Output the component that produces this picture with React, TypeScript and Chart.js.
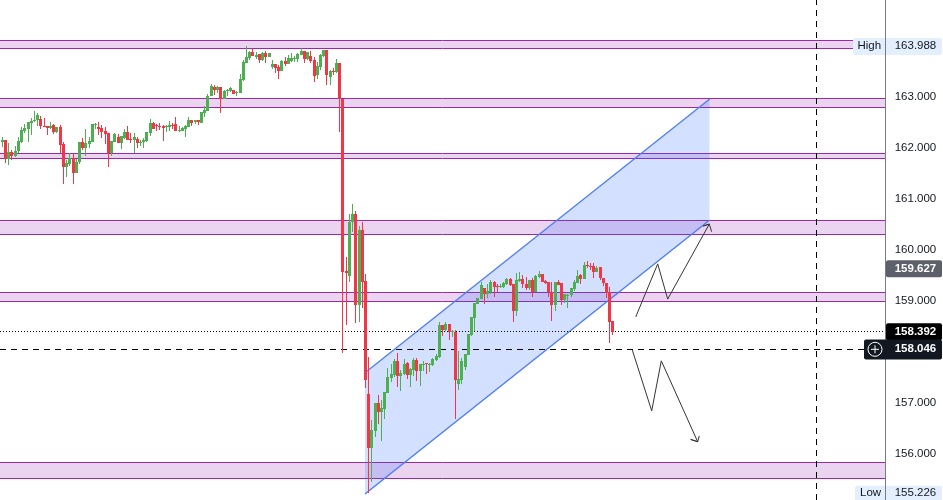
import React, { useEffect, useRef } from "react";
import { Chart, registerables } from "chart.js";

Chart.register(...registerables);

const opens = [
  162.10,162.15,161.78,161.91,161.83,161.93,162.10,162.32,162.37,162.49,
  162.53,162.53,162.56,162.43,162.43,162.38,162.44,162.30,162.40,162.07,
  161.62,161.68,161.79,161.51,161.72,162.11,162.00,162.07,162.11,162.45,
  162.41,162.38,162.32,162.28,161.89,162.11,162.21,162.09,162.19,162.30,
  162.16,162.15,162.17,162.10,162.10,162.13,162.28,162.48,162.44,162.42,
  162.42,162.40,162.40,162.44,162.46,162.32,162.33,162.36,162.41,162.54,
  162.50,162.54,162.48,162.68,162.72,163.00,163.19,163.13,163.19,162.95,
  163.10,163.11,163.13,163.07,163.07,163.32,163.66,163.75,163.87,163.78,
  163.83,163.72,163.85,163.77,163.58,163.64,163.58,163.50,163.70,163.64,
  163.70,163.73,163.73,163.81,163.89,163.73,163.79,163.72,163.42,163.58,
  163.79,163.91,163.38,163.50,163.48,163.66,162.96,159.58,159.48,160.54,
  160.70,158.91,160.38,159.38,157.17,156.11,156.45,156.99,156.82,156.88,
  157.19,157.48,157.54,157.82,157.52,157.56,157.78,157.54,157.64,157.84,
  157.62,157.74,157.77,157.74,157.74,157.84,157.90,158.52,158.42,158.54,
  158.38,158.38,157.37,157.44,157.70,157.93,158.33,158.66,158.93,159.03,
  159.25,159.13,159.17,159.36,159.29,159.26,159.27,159.33,159.42,159.33,
  158.80,159.38,159.42,159.33,159.25,159.40,159.16,159.46,159.52,159.38,
  159.36,159.17,158.91,159.36,159.35,159.01,159.09,159.11,159.23,159.35,
  159.50,159.42,159.70,159.68,159.68,159.56,159.66,159.44,159.35,159.17,
  158.60,
];
const closes = [
  162.15,161.78,161.91,161.83,161.93,162.13,162.34,162.39,162.50,162.52,
  162.54,162.64,162.42,162.42,162.38,162.43,162.30,162.40,162.05,161.62,
  161.69,161.79,161.51,161.72,162.11,161.99,162.09,162.13,162.46,162.47,
  162.37,162.30,162.27,161.89,162.13,162.27,162.09,162.23,162.30,162.15,
  162.15,162.21,162.09,162.11,162.15,162.30,162.48,162.36,162.43,162.41,
  162.39,162.42,162.44,162.42,162.32,162.34,162.38,162.42,162.54,162.48,
  162.54,162.50,162.70,162.74,163.01,163.21,163.13,163.19,162.95,163.11,
  163.12,163.16,163.05,163.09,163.34,163.68,163.77,163.87,163.79,163.81,
  163.72,163.85,163.77,163.85,163.64,163.56,163.50,163.70,163.64,163.75,
  163.75,163.75,163.83,163.89,163.73,163.87,163.70,163.40,163.60,163.81,
  163.91,163.42,163.50,163.48,163.66,162.95,159.57,159.55,160.54,160.70,
  158.91,160.38,159.37,157.44,156.11,156.47,156.99,156.82,156.90,157.21,
  157.50,157.56,157.82,157.52,157.58,157.76,157.54,157.66,157.84,157.62,
  157.76,157.76,157.75,157.75,157.86,157.91,158.52,158.42,158.54,158.38,
  158.40,157.44,157.46,157.82,157.95,158.35,158.68,158.95,159.05,159.31,
  159.13,159.19,159.36,159.27,159.27,159.29,159.35,159.42,159.31,158.80,
  159.40,159.42,159.33,159.25,159.40,159.17,159.48,159.52,159.36,159.35,
  159.17,158.91,159.36,159.31,159.01,159.13,159.11,159.25,159.36,159.48,
  159.42,159.70,159.67,159.66,159.56,159.64,159.44,159.35,159.15,158.58,
  158.39,
];
const highs = [
  162.20,162.15,162.08,161.96,162.03,162.20,162.40,162.46,162.50,162.57,
  162.72,162.67,162.62,162.58,162.43,162.51,162.46,162.41,162.44,162.11,
  161.76,161.89,161.89,161.77,162.11,162.19,162.36,162.20,162.47,162.49,
  162.50,162.44,162.40,162.28,162.13,162.28,162.27,162.23,162.36,162.42,
  162.28,162.28,162.21,162.15,162.19,162.30,162.56,162.50,162.46,162.48,
  162.44,162.44,162.52,162.48,162.60,162.42,162.41,162.44,162.59,162.54,
  162.54,162.54,162.70,162.81,163.05,163.25,163.23,163.21,163.19,163.13,
  163.15,163.19,163.13,163.11,163.44,163.72,163.99,163.90,163.95,163.87,
  163.83,163.87,163.89,163.85,163.72,163.64,163.62,163.72,163.77,163.81,
  163.85,163.79,163.85,163.95,163.89,163.87,163.89,163.78,163.68,163.83,
  163.91,163.91,163.52,163.56,163.73,163.66,162.96,159.86,160.70,160.89,
  160.76,160.46,160.54,159.52,157.90,156.66,156.99,157.15,157.05,157.21,
  157.68,157.76,157.86,157.97,157.64,157.86,157.80,157.68,157.88,157.88,
  157.76,157.82,157.78,157.77,157.87,157.95,158.58,158.52,158.58,158.54,
  158.42,158.42,158.01,157.87,157.95,158.35,158.68,158.95,159.05,159.36,
  159.25,159.33,159.40,159.38,159.33,159.33,159.36,159.44,159.44,159.33,
  159.55,159.56,159.50,159.46,159.40,159.44,159.50,159.58,159.52,159.40,
  159.36,159.36,159.36,159.40,159.35,159.13,159.13,159.25,159.40,159.60,
  159.52,159.76,159.78,159.74,159.74,159.68,159.66,159.44,159.35,159.27,
  158.60,
];
const lows = [
  162.02,161.70,161.66,161.76,161.82,161.89,162.08,162.29,162.10,162.25,
  162.51,162.42,162.36,162.41,162.25,162.37,162.27,162.29,161.89,161.29,
  161.43,161.64,161.29,161.51,161.68,161.95,161.83,162.00,162.11,162.37,
  162.24,162.19,162.07,161.62,161.83,162.10,162.09,161.97,162.16,162.15,
  162.08,161.89,162.00,162.03,162.00,162.11,162.23,162.36,162.32,162.34,
  162.13,162.30,162.32,162.37,162.32,162.30,162.33,162.21,162.41,162.42,
  162.46,162.44,162.48,162.60,162.72,163.00,163.03,163.06,162.68,162.95,
  163.01,163.09,163.05,163.01,163.07,163.30,163.66,163.72,163.79,163.73,
  163.66,163.70,163.66,163.77,163.54,163.46,163.34,163.50,163.60,163.64,
  163.68,163.68,163.68,163.81,163.66,163.72,163.66,163.28,163.34,163.52,
  163.78,163.23,163.23,163.42,163.46,162.30,157.97,158.52,159.37,160.35,
  158.56,158.58,158.86,157.29,155.226,155.45,156.33,156.58,156.25,156.68,
  157.19,157.41,157.50,157.31,157.23,157.54,157.46,157.31,157.52,157.43,
  157.33,157.62,157.56,157.60,157.72,157.82,157.88,158.31,158.40,158.23,
  158.29,156.68,157.25,157.37,157.64,157.93,158.31,158.40,158.93,159.03,
  158.93,159.05,159.13,159.07,159.17,159.25,159.25,159.31,159.29,158.58,
  158.70,159.36,159.25,159.21,159.21,159.07,159.16,159.44,159.36,159.33,
  159.07,158.60,158.80,159.31,158.91,158.95,158.86,159.07,159.19,159.35,
  159.33,159.42,159.64,159.60,159.44,159.56,159.40,159.29,159.05,158.17,
  158.33,
];

const candleIndex = opens.map((_, i) => i);

const zoneTops = [164.0974, 162.9608, 161.883, 160.57, 159.1591, 155.8277];
const zoneBottoms = [163.9406, 162.7844, 161.785, 160.2957, 158.9827, 155.5142];

const channelX = [112.84, 220.1];
const channelUpper = [157.587, 162.951];
const channelLower = [155.21, 160.58];

const riseArrowX = [197.08, 203.92, 207.03, 219.97, 218.1, 219.97, 220.7];
const riseArrowY = [158.68, 159.72, 159.03, 160.5, 160.462, 160.5, 160.35];
const fallArrowX = [196.02, 202.05, 205.04, 216.36, 214.18, 216.36, 216.86];
const fallArrowY = [158.03, 156.84, 157.82, 156.235, 156.28, 156.235, 156.35];

const yTicks = [156, 157, 158, 159, 160, 161, 162, 163];
const sessionBreakX = 253.27;
const lastPrice = 158.392;
const crosshairPrice = 158.046;
const markPrice = 159.627;
const highPrice = 163.988;
const lowPrice = 155.226;

const X_MIN = -0.716;
const X_MAX = 274.64;
const Y_MIN = 155.093;
const Y_MAX = 164.891;
const GREEN = "#4caf50";
const RED = "#f23645";
const TAG_FONT = '11.5px "Liberation Sans", Arial, sans-serif';

const hLine = (price: number) => [
  { x: X_MIN, y: price },
  { x: X_MAX, y: price },
];

// Keeps candles and straight rules on whole pixels once the scales have placed them.
const snapPlugin = {
  id: "pixelSnap",
  afterDatasetsUpdate(chart: any) {
    chart.data.datasets.forEach((ds: any, i: number) => {
      const meta = chart.getDatasetMeta(i);
      if (ds.type === "bar") {
        meta.data.forEach((el: any) => {
          el.x = Math.floor(el.x) + 0.5;
          el.y = Math.round(el.y);
          el.base = Math.round(el.base);
          if (el.y === el.base) el.base = el.y + 1;
        });
      } else if (ds.snapRule) {
        meta.data.forEach((el: any) => {
          el.x = ds.snapRule === "v" ? Math.floor(el.x) + 0.5 : el.x;
          el.y = ds.snapRule === "h" ? Math.floor(el.y) + 0.5 : el.y;
        });
      }
    });
  },
};

const tagsPlugin = {
  id: "priceTags",
  afterDraw(chart: any) {
    const { ctx, scales, chartArea } = chart;
    const y = scales.y;
    const right = chartArea.right;
    const box = (x: number, yc: number, w: number, h: number, fill: string) => {
      ctx.fillStyle = fill;
      ctx.beginPath();
      ctx.roundRect(x, yc - h / 2, w, h, 2);
      ctx.fill();
    };
    const text = (s: string, x: number, yc: number, fill: string, bold = false) => {
      ctx.fillStyle = fill;
      ctx.font = (bold ? "bold " : "") + TAG_FONT;
      ctx.textAlign = "left";
      ctx.textBaseline = "middle";
      ctx.fillText(s, x, yc);
    };
    ctx.save();
    const hy = y.getPixelForValue(highPrice);
    const ly = y.getPixelForValue(lowPrice);
    box(853, hy + 0.3, 89, 17, "#e3effd");
    box(855, ly + 0.5, 87, 16, "#e3effd");
    ctx.strokeStyle = "#787b86";
    ctx.lineWidth = 1;
    ctx.beginPath();
    ctx.moveTo(right + 0.5, 0);
    ctx.lineTo(right + 0.5, 500);
    ctx.stroke();
    text("High", 857.5, hy, "#131722");
    text(highPrice.toFixed(3), 894.7, hy, "#131722");
    text("Low", 860, ly, "#131722");
    text(lowPrice.toFixed(3), 894.7, ly, "#131722");

    const my = y.getPixelForValue(markPrice);
    box(886, my, 56, 17, "#5d606b");
    text(markPrice.toFixed(3), 894.7, my, "#ffffff", true);

    const ay = y.getPixelForValue(lastPrice);
    box(886, ay, 56, 17, "#000000");
    text(lastPrice.toFixed(3), 894.7, ay, "#ffffff", true);

    const cy = y.getPixelForValue(crosshairPrice);
    box(864, cy + 0.3, 78, 20, "#131722");
    text(crosshairPrice.toFixed(3), 894.7, cy, "#ffffff", true);
    ctx.strokeStyle = "#ffffff";
    ctx.lineWidth = 1;
    ctx.beginPath();
    ctx.arc(875, cy, 7, 0, Math.PI * 2);
    ctx.moveTo(871, cy);
    ctx.lineTo(879, cy);
    ctx.moveTo(875, cy - 4);
    ctx.lineTo(875, cy + 4);
    ctx.stroke();
    ctx.restore();
  },
};

export default function App() {
  const ref = useRef<HTMLCanvasElement | null>(null);

  useEffect(() => {
    if (!ref.current) return;
    const line = {
      type: "line" as const,
      pointRadius: 0,
      pointHoverRadius: 0,
      tension: 0,
      spanGaps: true,
    };
    const zoneSets: any[] = [];
    zoneTops.forEach((top, i) => {
      zoneSets.push({
        ...line,
        data: hLine(top),
        borderColor: "#9c27b0",
        borderWidth: 1,
        backgroundColor: "rgba(156,39,176,0.2)",
        fill: "+1",
        snapRule: "h",
        order: 9,
      });
      zoneSets.push({
        ...line,
        data: hLine(zoneBottoms[i]),
        borderColor: "#9c27b0",
        borderWidth: 1,
        fill: false,
        snapRule: "h",
        order: 9,
      });
    });
    const chart = new Chart(ref.current, {
      type: "bar",
      data: {
        datasets: [
          ...zoneSets,
          {
            ...line,
            data: channelX.map((x, i) => ({ x, y: channelUpper[i] })),
            borderColor: "#4f7ff5",
            borderWidth: 1.4,
            backgroundColor: "rgba(41,98,255,0.2)",
            fill: "+1",
            order: 8,
          },
          {
            ...line,
            data: channelX.map((x, i) => ({ x, y: channelLower[i] })),
            borderColor: "#4f7ff5",
            borderWidth: 1.4,
            fill: false,
            order: 8,
          },
          {
            ...line,
            data: hLine(lastPrice),
            borderColor: "#000000",
            borderWidth: 1,
            borderDash: [1, 2],
            fill: false,
            snapRule: "h",
            order: 7,
          },
          {
            ...line,
            data: hLine(crosshairPrice),
            borderColor: "#000000",
            borderWidth: 1,
            borderDash: [6, 5],
            fill: false,
            snapRule: "h",
            order: 7,
          },
          {
            ...line,
            data: [
              { x: sessionBreakX, y: Y_MIN },
              { x: sessionBreakX, y: Y_MAX },
            ],
            borderColor: "#000000",
            borderWidth: 1,
            borderDash: [6, 5],
            fill: false,
            snapRule: "v",
            order: 7,
          },
          {
            type: "bar" as const,
            data: candleIndex.map((i) => ({ x: i, y: [lows[i], highs[i]] })),
            backgroundColor: candleIndex.map((i) => (closes[i] >= opens[i] ? GREEN : RED)),
            barThickness: 1,
            grouped: false,
            inflateAmount: 0,
            order: 3,
          },
          {
            type: "bar" as const,
            data: candleIndex.map((i) => ({ x: i, y: [opens[i], closes[i]] })),
            backgroundColor: candleIndex.map((i) => (closes[i] >= opens[i] ? GREEN : RED)),
            barThickness: 3,
            grouped: false,
            inflateAmount: 0,
            order: 2,
          },
          {
            ...line,
            data: riseArrowX.map((x, i) => ({ x, y: riseArrowY[i] })),
            borderColor: "#333333",
            borderWidth: 1,
            fill: false,
            order: 1,
          },
          {
            ...line,
            data: fallArrowX.map((x, i) => ({ x, y: fallArrowY[i] })),
            borderColor: "#333333",
            borderWidth: 1,
            fill: false,
            order: 1,
          },
        ] as any,
      },
      options: {
        responsive: false,
        animation: false,
        events: [],
        layout: { padding: 0, autoPadding: false },
        plugins: { legend: { display: false }, tooltip: { enabled: false } },
        scales: {
          x: { type: "linear", min: X_MIN, max: X_MAX, display: false, offset: false },
          y: {
            position: "right",
            min: Y_MIN,
            max: Y_MAX,
            offset: false,
            afterBuildTicks: (s: any) => {
              s.ticks = yTicks.map((value) => ({ value }));
            },
            afterFit: (s: any) => {
              s.width = 58;
              s.paddingTop = 0;
              s.paddingBottom = 0;
            },
            grid: { display: false, drawTicks: false },
            border: { display: true, color: "#787b86" },
            ticks: {
              autoSkip: false,
              padding: 9.7,
              color: "#131722",
              font: { family: '"Liberation Sans", Arial, sans-serif', size: 11.5 },
              callback: (v: any) => Number(v).toFixed(3),
            },
          },
        },
      } as any,
      plugins: [snapPlugin as any, tagsPlugin as any],
    });
    return () => chart.destroy();
  }, []);

  return (
    <div style={{ position: "fixed", left: 0, top: 0, width: 943, height: 500, background: "#fff" }}>
      <canvas ref={ref} width={943} height={500} style={{ display: "block" }} />
    </div>
  );
}
